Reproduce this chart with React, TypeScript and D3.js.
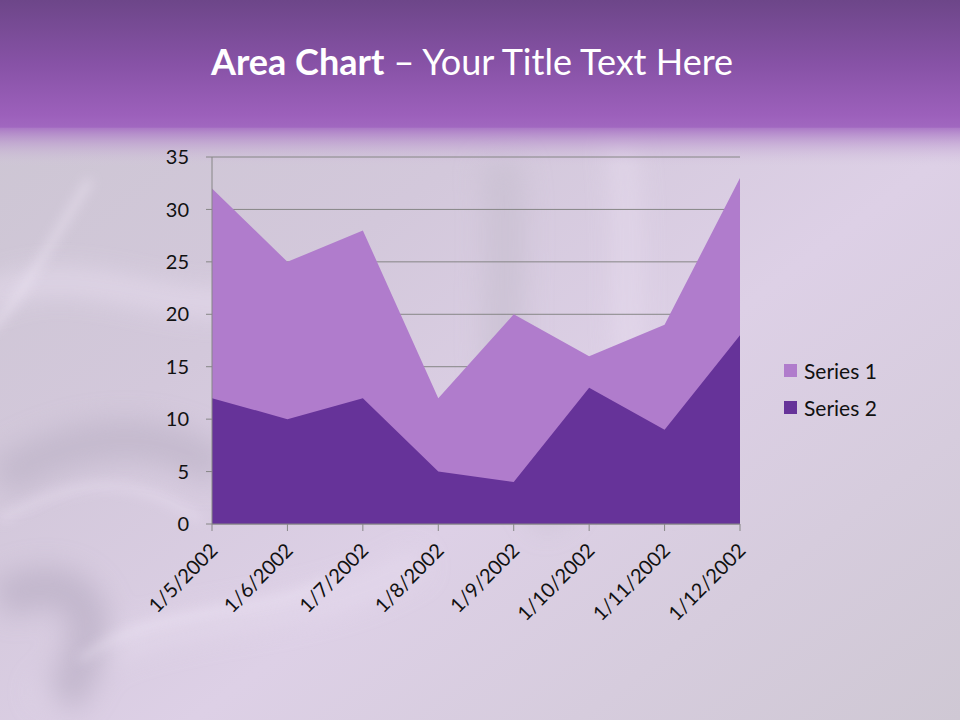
import React from "react";
import * as d3 from "d3";

const categories = ["1/5/2002", "1/6/2002", "1/7/2002", "1/8/2002", "1/9/2002", "1/10/2002", "1/11/2002", "1/12/2002"];
const series1 = [32, 25, 28, 12, 20, 16, 19, 33];
const series2 = [12, 10, 12, 5, 4, 13, 9, 18];
const seriesNames = ["Series 1", "Series 2"];
const seriesColors = ["#b07ccc", "#663399"];
const yTicks = [0, 5, 10, 15, 20, 25, 30, 35];

const W = 960, H = 720;
const left = 212, right = 740, top = 157, bottom = 524;
const FONT = "Lato, 'Open Sans', sans-serif";

export default function App() {
  const x = d3.scalePoint<string>().domain(categories).range([left, right]);
  const y = d3.scaleLinear().domain([0, 35]).range([bottom, top]);
  const area = d3.area<number>()
    .x((_, i) => x(categories[i]) as number)
    .y0(y(0))
    .y1((d) => y(d));
  const all = [series1, series2];

  return (
    <svg width={W} height={H} style={{ position: "absolute", left: 0, top: 0 }}>
      <defs>
        <linearGradient id="bg" x1="0" y1="0" x2="1" y2="1">
          <stop offset="0" stopColor="#cbc5d1" />
          <stop offset="0.35" stopColor="#d3c8db" />
          <stop offset="0.6" stopColor="#ddd0e6" />
          <stop offset="1" stopColor="#cfc8d4" />
        </linearGradient>
        <linearGradient id="hdr" x1="0" y1="0" x2="0" y2="1">
          <stop offset="0" stopColor="#6d4689" />
          <stop offset="0.5" stopColor="#8752a6" />
          <stop offset="0.9" stopColor="#9c60bb" />
          <stop offset="1" stopColor="#a168c0" />
        </linearGradient>
        <linearGradient id="fade" x1="0" y1="0" x2="0" y2="1">
          <stop offset="0" stopColor="#a46cc2" stopOpacity="0.9" />
          <stop offset="1" stopColor="#d6c9de" stopOpacity="0" />
        </linearGradient>
        <filter id="blur" x="-20%" y="-20%" width="140%" height="140%">
          <feGaussianBlur stdDeviation="14" />
        </filter>
        <filter id="blur2" x="-20%" y="-20%" width="140%" height="140%">
          <feGaussianBlur stdDeviation="6" />
        </filter>
      </defs>
      <rect x={0} y={0} width={W} height={H} fill="url(#bg)" />
      <g filter="url(#blur)" fill="none" opacity="0.7">
        <path d="M-20,300 C80,250 160,320 260,300" stroke="#efe4f7" strokeWidth="18" />
        <path d="M0,480 C60,440 150,420 220,470" stroke="#bdb3c7" strokeWidth="40" />
        <path d="M40,700 C120,600 300,640 420,560" stroke="#e6dbee" strokeWidth="22" />
        <path d="M500,160 C520,280 470,400 560,520" stroke="#c8bfd0" strokeWidth="40" />
        <path d="M620,140 C640,260 600,380 680,500" stroke="#e9def0" strokeWidth="20" />
        <path d="M0,600 C80,560 120,620 60,700" stroke="#b9aec4" strokeWidth="40" />
      </g>
      <g filter="url(#blur2)" fill="none" opacity="0.6">
        <path d="M90,180 C40,260 20,300 -10,330" stroke="#f2e9f8" strokeWidth="6" />
        <path d="M0,520 C70,480 130,470 200,520" stroke="#f0e6f7" strokeWidth="5" />
        <path d="M80,660 C160,600 260,620 330,580" stroke="#f2e9f8" strokeWidth="5" />
      </g>
      <rect x={0} y={0} width={W} height={128} fill="url(#hdr)" />
      <rect x={0} y={127} width={W} height={40} fill="url(#fade)" />

      <text x={472} y={75} textAnchor="middle" fill="#ffffff" fontFamily={FONT} fontSize={36}>
        <tspan fontWeight="bold">Area Chart</tspan>
        <tspan> – Your Title Text Here</tspan>
      </text>

      {yTicks.map((t) => (
        <line key={"g" + t} x1={left} x2={right} y1={y(t)} y2={y(t)} stroke="#868686" strokeWidth={1} />
      ))}

      {all.map((s, i) => (
        <path key={"a" + i} d={area(s) as string} fill={seriesColors[i]} />
      ))}

      <line x1={left} x2={left} y1={top} y2={bottom} stroke="#868686" />
      <line x1={left} x2={right} y1={bottom} y2={bottom} stroke="#868686" />
      {yTicks.map((t) => (
        <g key={"y" + t}>
          <line x1={left - 6} x2={left} y1={y(t)} y2={y(t)} stroke="#868686" />
          <text x={left - 23} y={y(t)} dy="0.36em" textAnchor="end" fontFamily={FONT} fontSize={20} fill="#111">{t}</text>
        </g>
      ))}
      {categories.map((c) => {
        const cx = x(c) as number;
        return (
          <g key={"x" + c}>
            <line x1={cx} x2={cx} y1={bottom} y2={bottom + 7} stroke="#868686" />
            <text transform={`translate(${cx - 3},${bottom + 18}) rotate(-45)`} textAnchor="end" dy="0.7em" fontFamily={FONT} fontSize={20} fill="#111">{c}</text>
          </g>
        );
      })}

      {seriesNames.map((n, i) => (
        <g key={"l" + n} transform={`translate(784,${371 + i * 37})`}>
          <rect x={0} y={-7} width={13} height={13} fill={seriesColors[i]} />
          <text x={20} y={0} dy="0.36em" fontFamily={FONT} fontSize={21} fill="#111">{n}</text>
        </g>
      ))}
    </svg>
  );
}
